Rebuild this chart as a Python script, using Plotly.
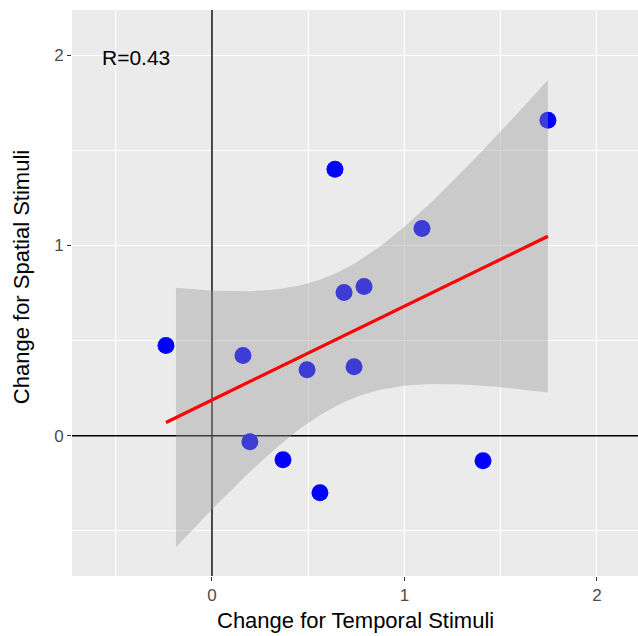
import numpy as np
import plotly.graph_objects as go

temporal = [-0.239, 0.161, 0.197, 0.369, 0.494, 0.561, 0.639, 0.686, 0.738, 0.790, 1.091, 1.408, 1.745]
spatial = [0.474, 0.421, -0.032, -0.126, 0.347, -0.300, 1.400, 0.753, 0.363, 0.784, 1.089, -0.132, 1.658]
band_x_start = -0.187
annot_text = "R=0.43"
x_title = "Change for Temporal Stimuli"
y_title = "Change for Spatial Stimuli"
x_ticks = [0, 1, 2]
y_ticks = [0, 1, 2]

x = np.array(temporal)
y = np.array(spatial)
n = len(x)
b1, b0 = np.polyfit(x, y, 1)
xs = np.linspace(x.min(), x.max(), 80)
yhat = b0 + b1 * xs
resid = y - (b0 + b1 * x)
s = np.sqrt(np.sum(resid ** 2) / (n - 2))
sxx = np.sum((x - x.mean()) ** 2)
tval = 2.200985  # t(0.975, df=11)
xb = np.linspace(band_x_start, x.max(), 80)
yb = b0 + b1 * xb
se = s * np.sqrt(1 / n + (xb - x.mean()) ** 2 / sxx)
upper = yb + tval * se
lower = yb - tval * se

xr = [-0.727, 2.213]
yr = [-0.737, 2.237]

FONT = "Liberation Sans, Arial, sans-serif"

fig = go.Figure()
fig.add_trace(go.Scatter(x=[0, 0], y=yr, mode="lines", line=dict(color="black", width=1.4),
                         hoverinfo="skip", showlegend=False))
fig.add_trace(go.Scatter(x=xr, y=[0, 0], mode="lines", line=dict(color="black", width=1.4),
                         hoverinfo="skip", showlegend=False))
fig.add_trace(go.Scatter(x=temporal, y=spatial, mode="markers",
                         marker=dict(color="#0000FF", size=17, line=dict(width=0)),
                         showlegend=False))
fig.add_trace(go.Scatter(x=np.concatenate([xb, xb[::-1]]), y=np.concatenate([upper, lower[::-1]]),
                         mode="lines", fill="toself", fillcolor="rgba(153,153,153,0.4)",
                         line=dict(width=0), hoverinfo="skip", showlegend=False))
fig.add_trace(go.Scatter(x=xs, y=yhat, mode="lines", line=dict(color="#FF0000", width=3.2),
                         showlegend=False))

fig.add_annotation(x=-0.395, y=1.99, text=annot_text, showarrow=False,
                   font=dict(size=21, color="black", family=FONT))
fig.add_annotation(xref="paper", yref="paper", x=0.5, y=0, yanchor="middle", yshift=-44,
                   text=x_title, showarrow=False,
                   font=dict(size=22, color="black", family=FONT))
fig.add_annotation(xref="paper", yref="paper", x=0, y=0.528, xanchor="center", xshift=-51,
                   textangle=-90, text=y_title, showarrow=False,
                   font=dict(size=22, color="black", family=FONT))

axis_common = dict(
    showgrid=True, gridcolor="white", gridwidth=1.4,
    zeroline=False, showline=False,
    ticks="outside", ticklen=4, tickcolor="#333333", tickwidth=1,
    tickfont=dict(size=17, color="#4D4D4D", family=FONT),
)
fig.update_xaxes(range=xr, tickvals=x_ticks, ticktext=[str(v) for v in x_ticks],
                 minor=dict(showgrid=True, gridcolor="white", gridwidth=0.7, tick0=-0.5, dtick=1, ticks=""),
                 **axis_common)
fig.update_yaxes(range=yr, tickvals=y_ticks, ticktext=[str(v) for v in y_ticks],
                 minor=dict(showgrid=True, gridcolor="white", gridwidth=0.7, tick0=-0.5, dtick=1, ticks=""),
                 **axis_common)

fig.update_layout(
    width=638, height=636,
    margin=dict(l=72, r=0, t=10, b=60),
    plot_bgcolor="#EBEBEB", paper_bgcolor="white",
    font=dict(family=FONT),
    showlegend=False,
)
fig.write_html("out.html", config={"displayModeBar": False},
               post_script="document.body.style.margin='0';document.body.style.overflow='hidden';")
